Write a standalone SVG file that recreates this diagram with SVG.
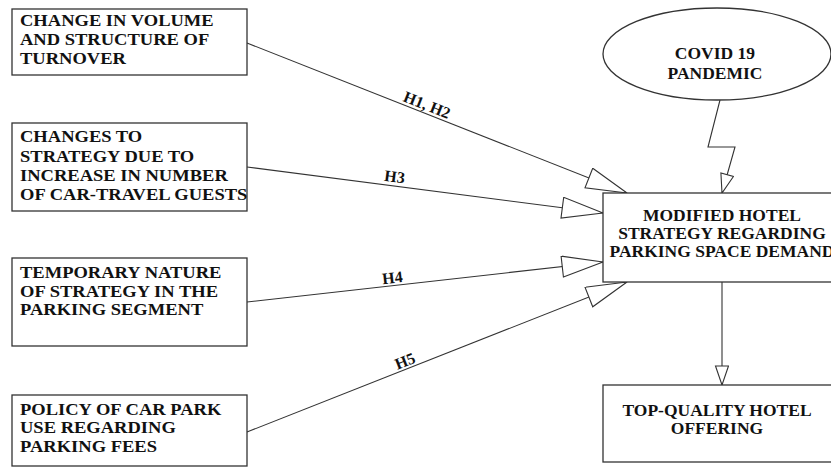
<svg xmlns="http://www.w3.org/2000/svg" width="831" height="468" viewBox="0 0 831 468">
<style>
.box{fill:#fff;stroke:#333;stroke-width:1.3}
.t{font-family:"Liberation Serif","Times New Roman",serif;font-weight:bold;font-size:17px;fill:#111}
.c{text-anchor:middle}
.lbl{font-family:"Liberation Serif","Times New Roman",serif;font-weight:bold;font-size:16px;fill:#111;text-anchor:middle}
.ln{fill:none;stroke:#333;stroke-width:1.1}
</style>
<defs>
<marker id="big" markerUnits="userSpaceOnUse" markerWidth="44" markerHeight="24" refX="42" refY="11" orient="auto">
<path d="M1,0.5 L42,11 L1,21.5 z" fill="#fff" stroke="#333" stroke-width="1.1"/>
</marker>
<marker id="small" markerUnits="userSpaceOnUse" markerWidth="22" markerHeight="16" refX="20" refY="7" orient="auto">
<path d="M1,0.5 L20,7 L1,13.5 z" fill="#fff" stroke="#333" stroke-width="1.1"/>
</marker>
</defs>
<g id="connectors">
<path class="ln" d="M247,43 L627,193" marker-end="url(#big)"/>
<path class="ln" d="M247,167 L603,213" marker-end="url(#big)"/>
<path class="ln" d="M247,302 L603,262" marker-end="url(#big)"/>
<path class="ln" d="M247,432 L627,282" marker-end="url(#big)"/>
<path class="ln" d="M720,100 L708,147 L735,147 L722,193" marker-end="url(#small)"/>
<path class="ln" d="M722,282 L722,385" marker-end="url(#small)"/>
<text class="lbl" transform="translate(425,110) rotate(21.5)">H1, H2</text>
<text class="lbl" transform="translate(394,182) rotate(7.4)">H3</text>
<text class="lbl" transform="translate(393,283) rotate(-6.4)">H4</text>
<text class="lbl" transform="translate(407,366) rotate(-21.6)">H5</text>
</g>
<g id="n1">
<rect class="box" x="12" y="9" width="235" height="66"/>
<g transform="matrix(1.09,0,0,1,-1.8,0)">
<text class="t" x="20" y="26">CHANGE IN VOLUME</text>
<text class="t" x="20" y="45">AND STRUCTURE OF</text>
<text class="t" x="20" y="64">TURNOVER</text>
</g>
</g>
<g id="n2">
<rect class="box" x="12" y="123" width="235" height="88"/>
<g transform="matrix(1.09,0,0,1,-1.8,0)">
<text class="t" x="20" y="142">CHANGES TO</text>
<text class="t" x="20" y="162">STRATEGY DUE TO</text>
<text class="t" x="20" y="181">INCREASE IN NUMBER</text>
<text class="t" x="20" y="200">OF CAR-TRAVEL GUESTS</text>
</g>
</g>
<g id="n3">
<rect class="box" x="12" y="258" width="235" height="88"/>
<g transform="matrix(1.09,0,0,1,-1.8,0)">
<text class="t" x="20" y="278">TEMPORARY NATURE</text>
<text class="t" x="20" y="297">OF STRATEGY IN THE</text>
<text class="t" x="20" y="315">PARKING SEGMENT</text>
</g>
</g>
<g id="n4">
<rect class="box" x="12" y="395" width="235" height="71"/>
<g transform="matrix(1.09,0,0,1,-1.8,0)">
<text class="t" x="20" y="415">POLICY OF CAR PARK</text>
<text class="t" x="20" y="433">USE REGARDING</text>
<text class="t" x="20" y="452">PARKING FEES</text>
</g>
</g>
<g id="covid">
<ellipse class="box" cx="717" cy="54" rx="114" ry="46"/>
<g transform="matrix(1.03,0,0,1,-21.45,0)">
<text class="t c" x="715" y="59">COVID 19</text>
<text class="t c" x="715" y="79">PANDEMIC</text>
</g>
</g>
<g id="modified">
<rect class="box" x="603" y="193" width="240" height="89"/>
<g transform="matrix(1.03,0,0,1,-21.66,0)">
<text class="t c" x="722" y="221">MODIFIED HOTEL</text>
<text class="t c" x="722" y="239">STRATEGY REGARDING</text>
<text class="t c" x="722" y="257">PARKING SPACE DEMAND</text>
</g>
</g>
<g id="top">
<rect class="box" x="603" y="385" width="240" height="77"/>
<g transform="matrix(1.03,0,0,1,-21.51,0)">
<text class="t c" x="717" y="416">TOP-QUALITY HOTEL</text>
<text class="t c" x="717" y="434">OFFERING</text>
</g>
</g>
</svg>
